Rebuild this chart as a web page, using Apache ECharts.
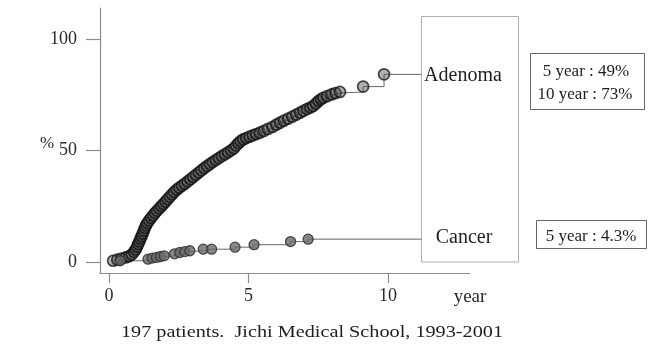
<!DOCTYPE html>
<html>
<head>
<meta charset="utf-8">
<script src="https://cdn.jsdelivr.net/npm/echarts@6/dist/echarts.min.js"></script>
<style>
  html, body { margin: 0; padding: 0; background: #fff; }
  #chart { width: 656px; height: 363px; }
</style>
</head>
<body>
<div id="chart"></div>
<script>
// Cumulative incidence after polypectomy: [year, %] at each event
const adenoma = [
  [0.15, 0.5], [0.30, 1.0], [0.45, 1.5], [0.60, 2.0], [0.72, 2.5], [0.82, 3.3],
  [0.90, 4.5], [0.96, 5.6], [1.01, 6.8], [1.05, 8.0], [1.09, 9.2], [1.13, 10.4],
  [1.17, 11.5], [1.21, 12.7], [1.25, 14.0], [1.29, 15.2], [1.33, 16.4], [1.38, 17.5],
  [1.44, 18.6], [1.51, 19.7], [1.58, 20.8], [1.65, 21.9], [1.72, 22.9], [1.80, 24.0],
  [1.88, 25.0], [1.95, 26.0], [2.03, 27.0], [2.10, 28.1], [2.18, 29.2], [2.26, 30.3],
  [2.34, 31.4], [2.43, 32.4], [2.52, 33.3], [2.62, 34.2], [2.72, 35.1], [2.82, 36.1],
  [2.92, 37.1], [3.02, 38.1], [3.12, 39.1], [3.22, 40.1], [3.32, 41.1], [3.42, 42.1],
  [3.52, 43.0], [3.62, 43.9], [3.72, 44.8], [3.83, 45.7], [3.94, 46.6], [4.05, 47.5],
  [4.16, 48.3], [4.27, 49.2], [4.38, 50.1], [4.48, 51.0], [4.56, 52.2], [4.64, 53.3],
  [4.72, 54.2], [4.81, 55.0], [4.92, 55.6], [5.04, 56.2], [5.16, 56.8], [5.28, 57.4],
  [5.41, 58.0], [5.55, 58.8], [5.70, 59.7], [5.86, 60.6], [6.00, 61.6], [6.13, 62.5],
  [6.27, 63.4], [6.42, 64.3], [6.57, 65.2], [6.71, 66.1], [6.85, 67.0], [6.97, 67.8],
  [7.10, 68.6], [7.22, 69.3], [7.32, 70.0], [7.42, 71.1], [7.51, 72.2], [7.60, 73.0],
  [7.68, 73.7], [7.82, 74.4], [7.98, 75.2], [8.12, 75.8], [8.28, 76.3], [9.11, 78.7],
  [9.86, 84.2]
];
const adenomaEnd = [11.2, 84.2];

const cancer = [
  [0.40, 0.5], [1.40, 1.2], [1.55, 1.7], [1.70, 2.0], [1.85, 2.4], [1.98, 2.7],
  [2.35, 3.6], [2.54, 4.2], [2.72, 4.6], [2.90, 5.0], [3.38, 5.7], [3.68, 5.7],
  [4.52, 6.6], [5.20, 7.7], [6.51, 9.1], [7.14, 10.2]
];
const cancerEnd = [11.2, 10.2];

const xTicks = [0, 5, 10];
const yTicks = [0, 50, 100];
const groupNames = ['Adenoma', 'Cancer'];
const adenomaRates = ['5 year : 49%', '10 year : 73%'];
const cancerRates = ['5 year : 4.3%'];
const caption = '197 patients.  Jichi Medical School, 1993-2001';

const serif = '"Liberation Serif", "DejaVu Serif", serif';

// last point closes the step line at the frame edge, without a marker
function withEnd(points, end) {
  return points.map(p => p).concat([{ value: end, symbol: 'none' }]);
}

function label(text, x, y, size, color, extra) {
  return Object.assign({
    type: 'text', z: 5, x: x, y: y,
    style: { text: text, font: size + 'px ' + serif, fill: color || '#1e1e1e',
             textAlign: 'center', textVerticalAlign: 'middle' }
  }, extra || {});
}

const chart = echarts.init(document.getElementById('chart'), null, { renderer: 'canvas' });

chart.setOption({
  animation: false,
  backgroundColor: '#fff',
  grid: { left: 100, right: 186, top: 8, bottom: 90 },
  xAxis: {
    type: 'value',
    min: -0.32,
    max: 12.94,
    axisLine: { onZero: false, lineStyle: { color: '#8c8c8c', width: 1.2 } },
    axisTick: { customValues: xTicks, length: 10, lineStyle: { color: '#8c8c8c', width: 1.2 } },
    axisLabel: {
      customValues: xTicks, margin: 14, color: '#2a2a2a',
      fontFamily: serif, fontSize: 18
    },
    splitLine: { show: false }
  },
  yAxis: {
    type: 'value',
    min: -5,
    max: 114,
    axisLine: { onZero: false, lineStyle: { color: '#8c8c8c', width: 1.2 } },
    axisTick: { customValues: yTicks, length: 14, lineStyle: { color: '#8c8c8c', width: 1.2 } },
    axisLabel: {
      customValues: yTicks, margin: 23, color: '#2a2a2a',
      fontFamily: serif, fontSize: 18
    },
    splitLine: { show: false }
  },
  series: [
    {
      name: groupNames[0],
      type: 'line',
      step: 'end',
      data: withEnd(adenoma, adenomaEnd),
      symbol: 'circle',
      symbolSize: 11,
      lineStyle: { color: '#666', width: 1 },
      itemStyle: {
        color: 'rgba(80,80,80,0.45)',
        borderColor: 'rgba(15,15,15,0.75)',
        borderWidth: 1.7
      },
      z: 3
    },
    {
      name: groupNames[1],
      type: 'line',
      step: 'end',
      data: withEnd(cancer, cancerEnd),
      symbol: 'circle',
      symbolSize: 10,
      lineStyle: { color: '#666', width: 1 },
      itemStyle: {
        color: 'rgba(105,105,105,0.8)',
        borderColor: 'rgba(50,50,50,0.85)',
        borderWidth: 1.3
      },
      z: 3
    }
  ],
  graphic: [
    {
      type: 'rect', z: 1,
      shape: { x: 421.5, y: 16.5, width: 97, height: 245.5 },
      style: { fill: 'none', stroke: '#b0b0b0', lineWidth: 1 }
    },
    label(groupNames[0], 463, 76, 20),
    label(groupNames[1], 464, 238, 20),
    {
      type: 'rect',
      shape: { x: 530.5, y: 53.5, width: 114, height: 56 },
      style: { fill: 'none', stroke: '#666', lineWidth: 1 }
    },
    label(adenomaRates[0], 586, 71.5, 17),
    label(adenomaRates[1], 585, 94.5, 17),
    {
      type: 'rect',
      shape: { x: 536.5, y: 220.5, width: 110, height: 28 },
      style: { fill: 'none', stroke: '#666', lineWidth: 1 }
    },
    label(cancerRates[0], 591, 236.5, 17),
    label('%', 47, 144, 17, '#2a2a2a'),
    label('year', 470, 297, 19, '#2a2a2a'),
    label(caption, 312, 333, 17, '#1e1e1e', { scaleX: 1.19 })
  ]
});
</script>
</body>
</html>
